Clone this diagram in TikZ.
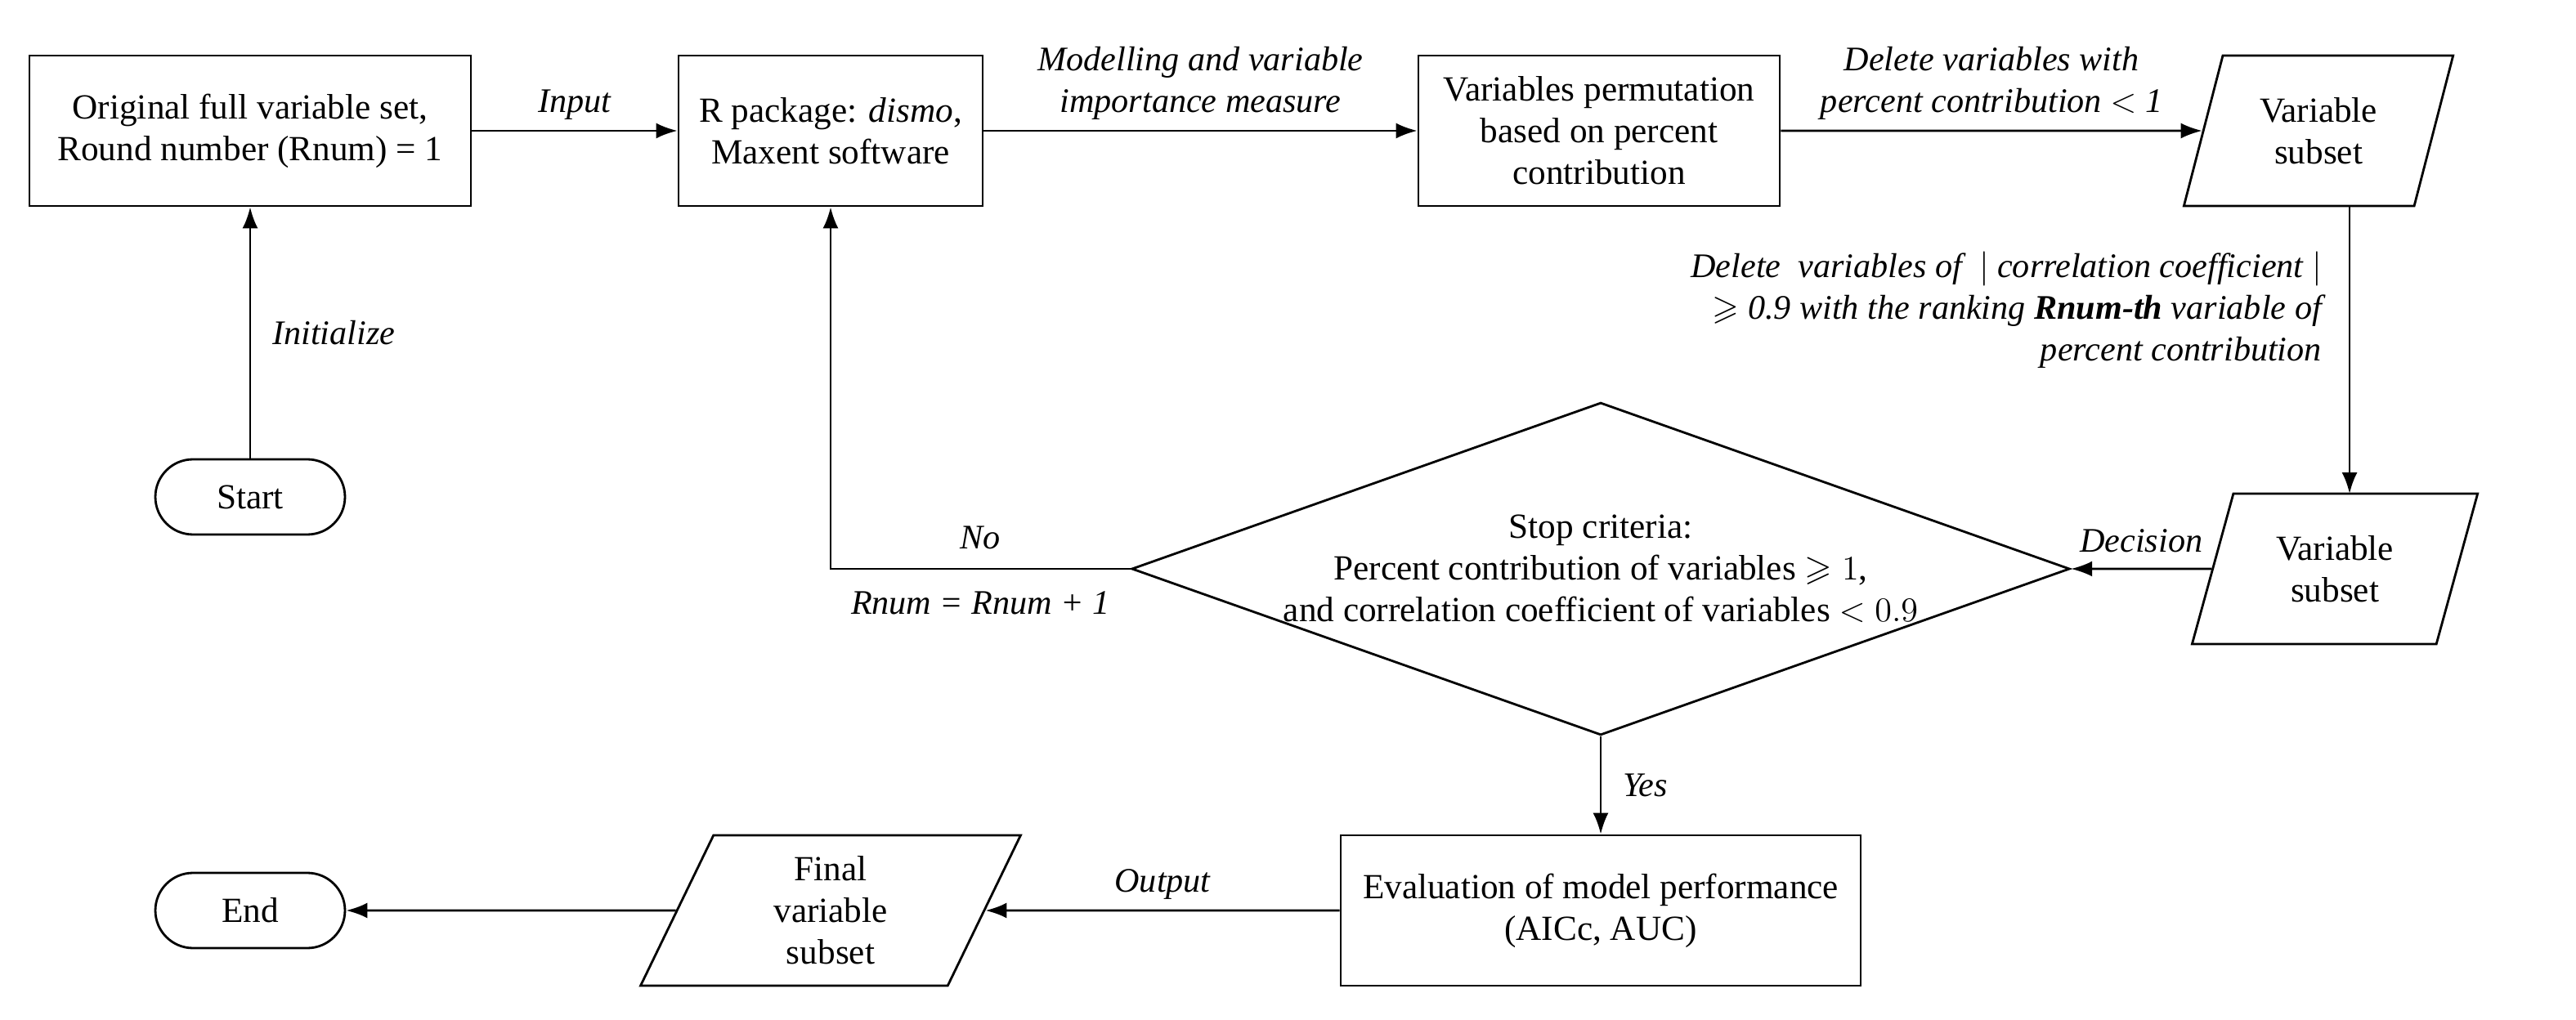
\documentclass[tikz,border=0pt]{standalone}
\usepackage{fontspec}
\setmainfont{Liberation Serif}
\usepackage{amsmath}
\usepackage{amssymb}
\usetikzlibrary{shapes.geometric}
\usetikzlibrary{arrows.meta}
\tikzset{>={Latex[length=2.6mm,width=1.9mm]}}
\tikzset{
	box/.style={draw,thick,minimum height=1.84cm,align=center},
	term/.style={draw,thick,rounded corners=4.6mm,minimum width=2.32cm,minimum height=0.92cm},
	data/.style={draw,thick,trapezium,trapezium left angle=72,trapezium right angle=108,trapezium stretches=true,minimum width=3.3cm,minimum height=1.84cm,align=center},
	lab/.style={font=\itshape\fontsize{12}{14.5}\selectfont,align=center}
}
\begin{document}
\begin{tikzpicture}[x=0.02cm,y=-0.02cm,font=\fontsize{12.3}{14.5}\selectfont]
	\useasboundingbox (0,0) rectangle (1575.5,624);
	\node[box,minimum width=5.4cm] (orig) at (153,80) {Original full variable set,\\Round number (Rnum) = 1};
	\node[box,minimum width=3.72cm] (rpkg) at (508,80) {R package: \textit{dismo},\\Maxent software};
	\node[box,minimum width=4.42cm] (perm) at (978,80) {Variables permutation\\based on percent\\contribution};
	\node[data] (sub1) at (1418,80) {Variable\\subset};
	\node[term] (start) at (153,304) {Start};
	\node[draw,thick,diamond,shape aspect=2.82,minimum width=10.3cm,inner sep=0,align=center] (stop) at (979,348) {Stop criteria:\\Percent contribution of variables $\geqslant 1$,\\and correlation coefficient of variables $< 0.9$};
	\node[data,minimum width=3.5cm] (sub2) at (1428,348) {Variable\\subset};
	\node[box,minimum width=6.36cm] (eval) at (979,557) {Evaluation of model performance\\(AICc, AUC)};
	\node[data,minimum width=4.66cm] (final) at (508,557) {Final\\variable\\subset};
	\node[term] (end) at (153,557) {End};
	\coordinate (sub1b) at (1437,126);
	\coordinate (sub2t) at (1437,302);
	\coordinate (corner) at (508,348);
	\draw[thick,->] (orig) -- node[lab,above]{Input} (rpkg);
	\draw[thick,->] (rpkg) -- node[lab,above]{Modelling and variable\\importance measure} (perm);
	\draw[thick,->] (perm) -- node[lab,above]{Delete variables with\\percent contribution $<$ \textit{1}} (sub1);
	\draw[thick,->] (start) -- node[lab,right,xshift=4pt]{Initialize} (orig);
	\draw[thick,->] (sub1b) -- node[lab,left,align=right,xshift=-6pt,yshift=14pt]{Delete \ variables of \ $|$ correlation coefficient $|$\\$\geqslant$ 0.9 with the ranking \textbf{Rnum-th} variable of\\percent contribution} (sub2t);
	\draw[thick,->] (sub2) -- node[lab,above,yshift=2pt]{Decision} (stop);
	\draw[thick,->] (stop.west) -- node[lab,above,yshift=3pt]{No} node[lab,below,yshift=-4pt]{Rnum = Rnum + 1} (corner) -- (rpkg);
	\draw[thick,->] (stop) -- node[lab,right,xshift=4pt]{Yes} (eval);
	\draw[thick,->] (eval) -- node[lab,above]{Output} (final);
	\draw[thick,->] (final) -- (end);
\end{tikzpicture}
\end{document}
